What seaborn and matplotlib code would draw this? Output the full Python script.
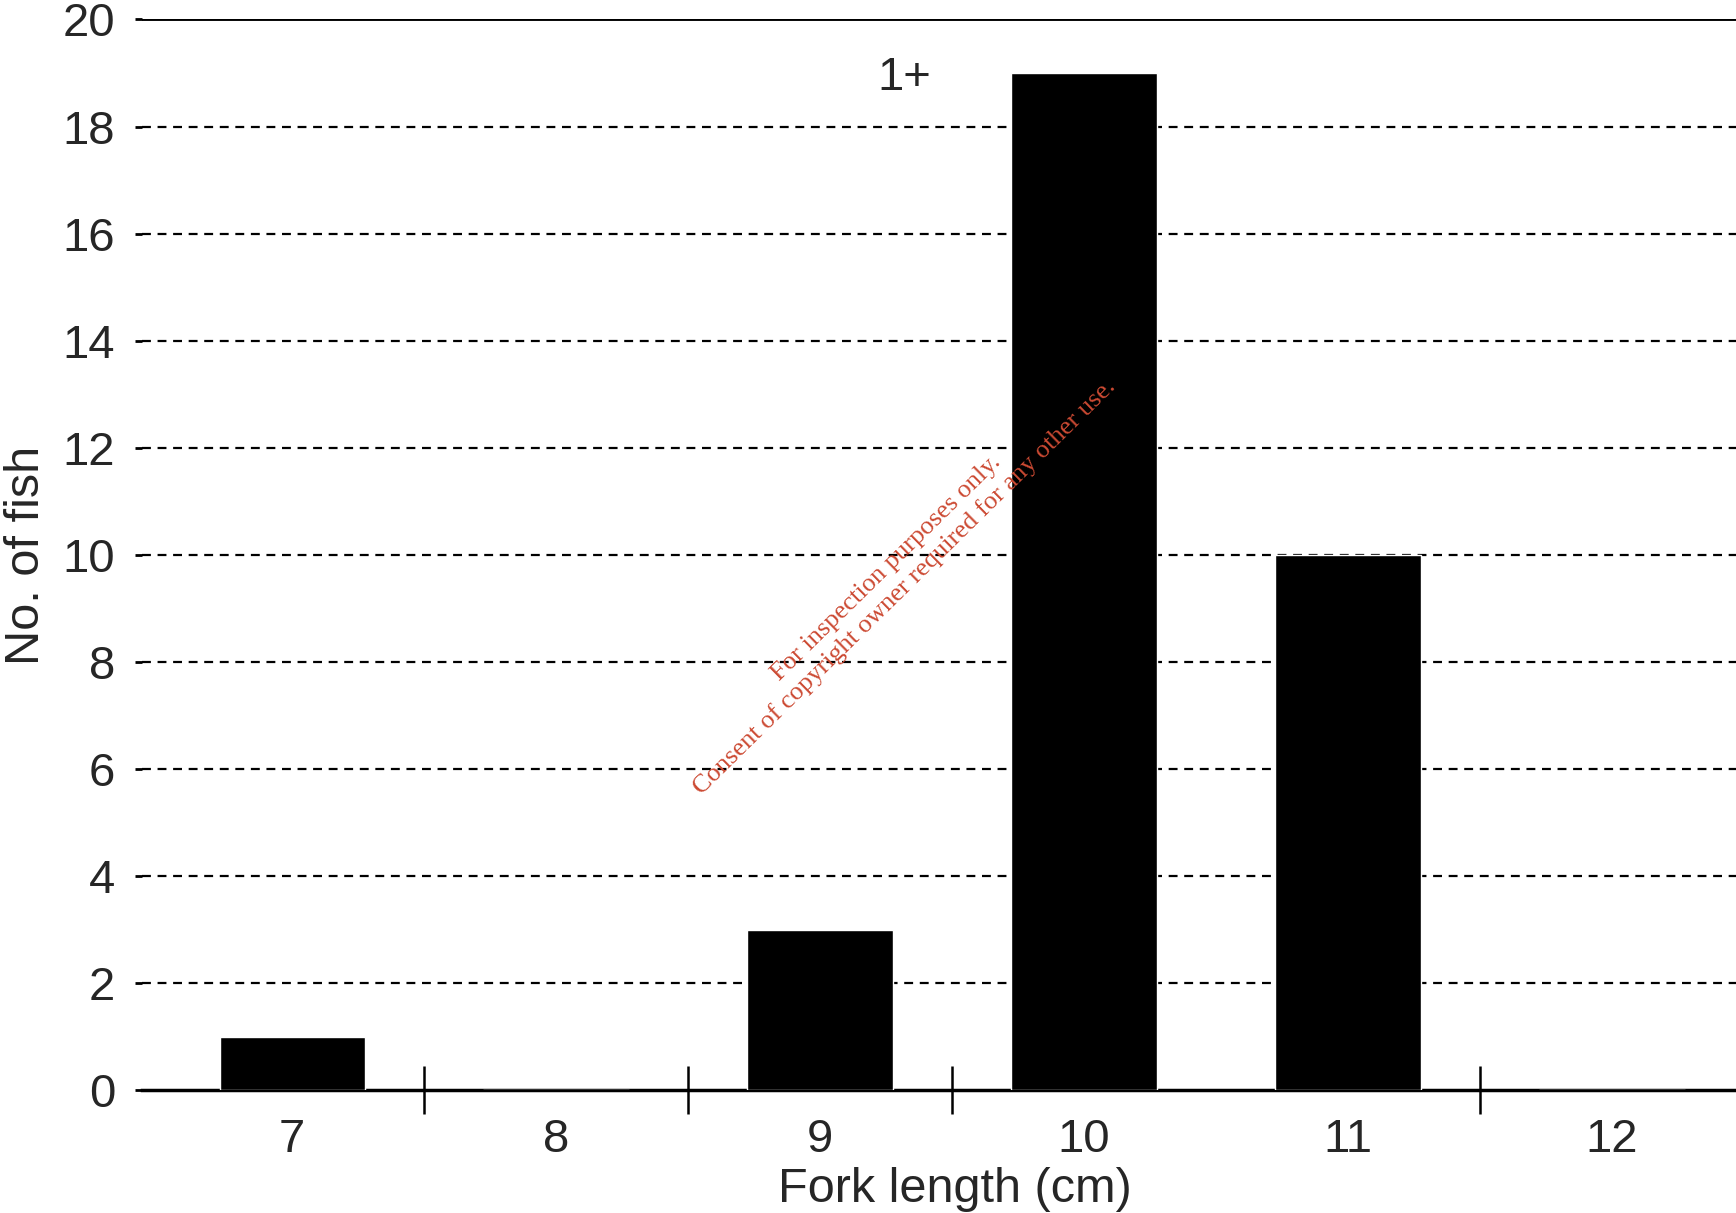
import numpy as np
import pandas as pd
import seaborn as sns
import matplotlib.pyplot as plt
from matplotlib.ticker import FixedLocator

lengths = ['7', '8', '9', '10', '11', '12']
counts = [1, 0, 3, 19, 10, 0]
yticks = list(range(0, 21, 2))
# tick marks between classes (the one between 10 and 11 isn't drawn in the original)
sep_ticks = [0.5, 1.5, 2.5, 4.5]

df = pd.DataFrame({'length': lengths, 'count': counts})

sns.set_style('white')
plt.rcParams['font.family'] = ['Liberation Sans', 'DejaVu Sans']

fig = plt.figure(figsize=(17.36, 12.13), dpi=100)
ax = fig.add_axes([0.0816, 0.101, 0.9184, 0.883])

sns.barplot(data=df, x='length', y='count', color='black', width=0.55,
            saturation=1, ax=ax, zorder=3)

ax.set_xlim(-0.57, 5.47)
ax.set_ylim(0, 20)
ax.set_yticks(yticks)

# dashed grid, solid top line
for y in yticks[1:-1]:
    ax.axhline(y, color='black', lw=1.6, ls=(0, (4, 3)), zorder=1)
ax.axhline(20, color='black', lw=2.8, zorder=1)

for s in ['left', 'right', 'top']:
    ax.spines[s].set_visible(False)
ax.spines['bottom'].set_linewidth(2.5)
ax.spines['bottom'].set_color('black')

ax.tick_params(axis='y', length=5, width=2, color='black', pad=14,
               labelsize=34, left=True)
ax.tick_params(axis='x', which='major', length=0, pad=20, labelsize=34)
ax.xaxis.set_minor_locator(FixedLocator(sep_ticks))
ax.tick_params(axis='x', which='minor', direction='inout', length=34,
               width=1.8, color='black', bottom=True)

ax.set_xlabel('Fork length (cm)', fontsize=35)
ax.set_ylabel('No. of fish', fontsize=35, labelpad=10)
ax.xaxis.set_label_coords(0.51, -0.071)

ax.text(2.32, 18.9, '1+', fontsize=34, ha='center', va='center')

fig.text(0.516, 0.524,
         'For inspection purposes only.\nConsent of copyright owner required for any other use.',
         rotation=44.5, rotation_mode='anchor', ha='center', va='center',
         fontsize=19, color='#cc4a33', family='Liberation Serif',
         multialignment='center')

fig.savefig('out.png', dpi=100)
